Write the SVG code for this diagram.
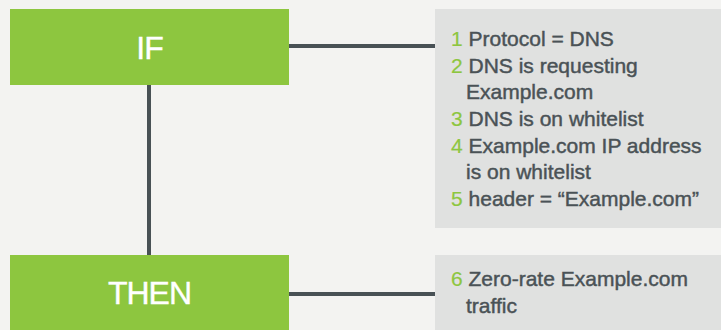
<svg xmlns="http://www.w3.org/2000/svg" width="721" height="330" viewBox="0 0 721 330">
<style>
.bg{fill:#f3f3f1}
.green{fill:#8dc63f}
.panel{fill:#e0e1e0}
.conn{stroke:#485155;stroke-width:4;fill:none}
.title{font-family:"Liberation Sans",Arial,sans-serif;font-size:32px;fill:#ffffff;stroke:#ffffff;stroke-width:0.4;text-anchor:middle;letter-spacing:-1px}
.item{font-family:"Liberation Sans",Arial,sans-serif;font-size:21px;fill:#4a5256;stroke:#4a5256;stroke-width:0.45}
.num{fill:#8dc63f;stroke:#8dc63f;stroke-width:0.2}
</style>
<rect class="bg" x="0" y="0" width="721" height="330"/>
<g id="connectors">
<line class="conn" x1="149" y1="85" x2="149" y2="255"/>
<line class="conn" x1="289" y1="46" x2="435" y2="46"/>
<line class="conn" x1="289" y1="294" x2="435" y2="294"/>
</g>
<g id="if">
<rect class="green" x="10" y="9" width="279" height="76"/>
<text class="title" x="149.5" y="59">IF</text>
</g>
<g id="then">
<rect class="green" x="10" y="255" width="279" height="75"/>
<text class="title" x="149.5" y="304">THEN</text>
</g>
<g id="conditions">
<rect class="panel" x="435" y="9" width="286" height="219"/>
<text class="item" x="451" y="46"><tspan class="num">1</tspan> Protocol = DNS</text>
<text class="item" x="451" y="72.6"><tspan class="num">2</tspan> DNS is requesting</text>
<text class="item" x="466" y="99.3">Example.com</text>
<text class="item" x="451" y="126"><tspan class="num">3</tspan> DNS is on whitelist</text>
<text class="item" x="451" y="152.6"><tspan class="num">4</tspan> Example.com IP address</text>
<text class="item" x="466" y="179.3">is on whitelist</text>
<text class="item" x="451" y="205.9"><tspan class="num">5</tspan> header = “Example.com”</text>
</g>
<g id="action">
<rect class="panel" x="435" y="255" width="286" height="75"/>
<text class="item" x="451" y="286"><tspan class="num">6</tspan> Zero-rate Example.com</text>
<text class="item" x="466" y="312.6">traffic</text>
</g>
</svg>
